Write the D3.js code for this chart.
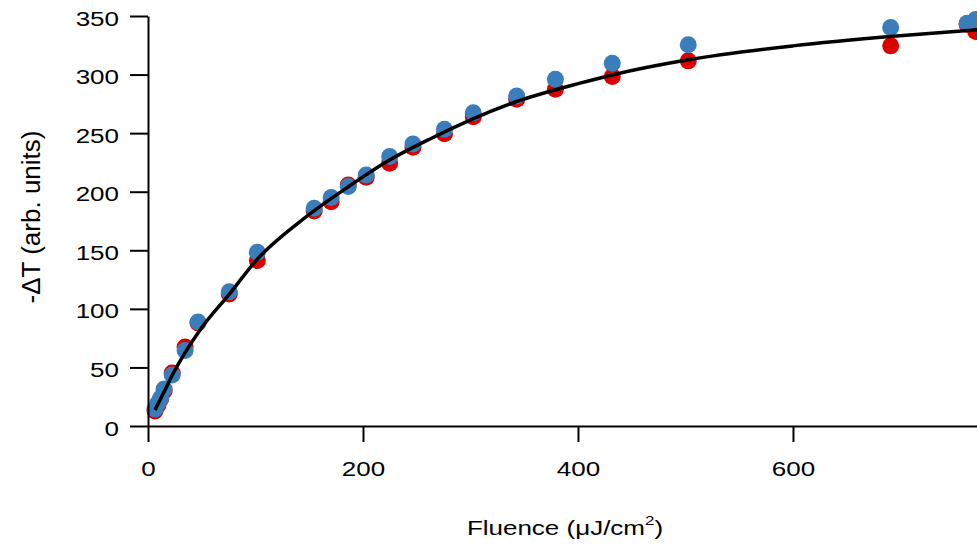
<html>
<head>
  <style>
    body { margin: 0; background-color: white; }
  </style>
</head>
<body>
<div id="mydiv"></div>
<script src="https://d3js.org/d3.v7.min.js"></script>
<script>

// Data: fluence (uJ/cm^2) and -dT for the two scans
var fluence = [6.5, 9.3, 11.8, 15, 22.5, 34.5, 46.5, 75.6, 101.7, 154.6, 170.4, 186.3, 203, 224.8, 246.5, 275.8, 302.6, 343, 379, 431.9, 502.6, 690.9, 762, 770];
var blueVals = [14.5, 19.6, 24, 31.6, 43.5, 64.5, 88.8, 114.7, 148.3, 185.9, 195, 204.4, 214.3, 230, 240.8, 253.4, 267.5, 281.8, 296.1, 309.7, 325.4, 340.1, 343.9, 347];
var redVals = [12.8, 17.9, 23, 29.9, 45.3, 67.5, 88, 112.7, 141.2, 183.6, 191.5, 205.8, 212.4, 224.3, 238, 249.4, 264.1, 279, 287.5, 298.3, 311.7, 324.5, 343, 336.7];

// saturation fit, points
var fitX = [6.5, 15.8, 23.5, 48.4, 76.3, 101.1, 141.4, 186, 225.1, 262.3, 343, 401.9, 431.9, 502.6, 600, 690.2, 771.2];
var fitY = [13.7, 30.7, 45, 82, 113.3, 141.8, 174.5, 204, 227.2, 245, 277, 292.7, 299.7, 312.6, 324.5, 332.5, 338.2];

var xTicks = [0, 200, 400, 600];
var yTicks = [0, 50, 100, 150, 200, 250, 300, 350];

let width = 977, height = 546;
let squash = 0.78;  // text in the picture is a bit flattened

let svg = d3.select("#mydiv")
  .append("svg")
    .attr("width", width)
    .attr("height", height)
    .style("display", "block");

let x = d3.scaleLinear().domain([0, 771.2]).range([148, 977]);
let y = d3.scaleLinear().domain([0, 350]).range([426, 16]);

// red scan first, blue on top
svg.append("g")
  .selectAll("circle")
  .data(fluence)
  .enter()
  .append("circle")
    .attr("cx", d => x(d))
    .attr("cy", (d, i) => y(redVals[i]))
    .attr("r", 8.5)
    .attr("fill", "#dc0000");

svg.append("g")
  .selectAll("circle")
  .data(fluence)
  .enter()
  .append("circle")
    .attr("cx", d => x(d))
    .attr("cy", (d, i) => y(blueVals[i]))
    .attr("r", 8.5)
    .attr("fill", "#3a7dbb");

// fit line
let line = d3.line()
  .x(d => x(d[0]))
  .y(d => y(d[1]))
  .curve(d3.curveMonotoneX);

svg.append("path")
  .datum(fitX.map((v, i) => [v, fitY[i]]))
  .attr("d", line)
  .attr("fill", "none")
  .attr("stroke", "black")
  .attr("stroke-width", 3.5);

// axes
let xAxis = svg.append("g")
  .attr("transform", "translate(0," + y(0) + ")")
  .call(d3.axisBottom(x).tickValues(xTicks).tickSize(16).tickSizeOuter(0));

let yAxis = svg.append("g")
  .attr("transform", "translate(" + x(0) + ",0)")
  .call(d3.axisLeft(y).tickValues(yTicks).tickSize(18).tickSizeOuter(0).tickPadding(11));

[xAxis, yAxis].forEach(g => {
  g.attr("font-family", "'Liberation Sans', Arial, sans-serif")
   .attr("font-size", 26);
  g.selectAll("path, line")
   .attr("stroke", "black")
   .attr("stroke-width", 2);
  g.selectAll("text")
   .attr("fill", "black")
   .attr("transform", "scale(1," + squash + ")");
});

xAxis.selectAll("text")
  .attr("y", 50.5 / squash)
  .attr("dy", 0);

yAxis.selectAll("text")
  .attr("dy", 9 / squash);

// axis titles
let xTitle = svg.append("text")
  .attr("transform", "translate(565,535) scale(1," + squash + ")")
  .attr("text-anchor", "middle")
  .style("font-family", "'Liberation Sans', Arial, sans-serif")
  .style("font-size", "26px");
xTitle.append("tspan").text("Fluence (\u03BCJ/cm");
xTitle.append("tspan").attr("dy", -13).style("font-size", "17px").text("2");
xTitle.append("tspan").attr("dy", 13).text(")");

svg.append("text")
  .attr("transform", "translate(40,217) rotate(-90)")
  .attr("text-anchor", "middle")
  .style("font-family", "'Liberation Sans', Arial, sans-serif")
  .style("font-size", "26px")
  .text("-\u0394T (arb. units)");

</script>
</body>
</html>
